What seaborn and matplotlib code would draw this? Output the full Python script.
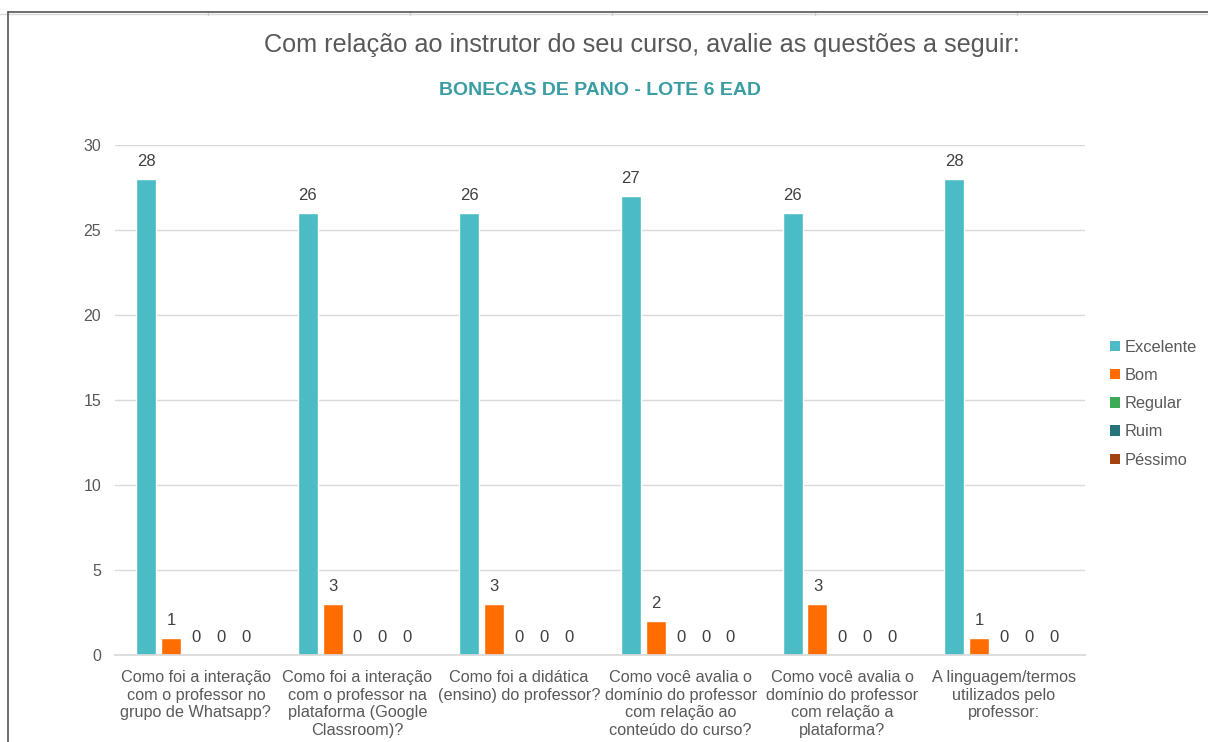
import matplotlib
matplotlib.use("Agg")
import matplotlib.pyplot as plt
import seaborn as sns
import pandas as pd
from matplotlib.patches import Patch
from matplotlib.lines import Line2D

categories = [
    "Como foi a interação\ncom o professor no\ngrupo de Whatsapp?",
    "Como foi a interação\ncom o professor na\nplataforma (Google\nClassroom)?",
    "Como foi a didática\n(ensino) do professor?",
    "Como você avalia o\ndomínio do professor\ncom relação ao\nconteúdo do curso?",
    "Como você avalia o\ndomínio do professor\ncom relação a\nplataforma?",
    "A linguagem/termos\nutilizados pelo\nprofessor:",
]
series_names = ["Excelente", "Bom", "Regular", "Ruim", "Péssimo"]
excelente = [28, 26, 26, 27, 26, 28]
bom = [1, 3, 3, 2, 3, 1]
regular = [0, 0, 0, 0, 0, 0]
ruim = [0, 0, 0, 0, 0, 0]
pessimo = [0, 0, 0, 0, 0, 0]
yticks = [0, 5, 10, 15, 20, 25, 30]

colors = ["#4BBCC6", "#FF6D01", "#3DAA58", "#26737A", "#A3420E"]

rows = []
for name, vals in zip(series_names, [excelente, bom, regular, ruim, pessimo]):
    for c, v in zip(categories, vals):
        rows.append({"cat": c, "serie": name, "valor": v})
df = pd.DataFrame(rows)

sns.set_theme(style="white")
plt.rcParams["font.family"] = ["Liberation Sans", "DejaVu Sans"]

fig = plt.figure(figsize=(12.08, 7.42), dpi=100)
ax = fig.add_axes([0.0952, 0.1172, 0.8028, 0.6874])

sns.barplot(data=df, x="cat", y="valor", hue="serie", hue_order=series_names,
            order=categories, palette=colors, width=0.77, gap=0.2,
            saturation=1, ax=ax, legend=False)

for cont in ax.containers:
    ax.bar_label(cont, padding=7, fontsize=12, color="#404040")

ax.set_ylim(0, 30)
ax.set_xlim(-0.5, len(categories) - 0.5)
ax.set_yticks(yticks)
ax.set_yticklabels([str(t) for t in yticks], fontsize=11.5, color="#595959")
ax.set_xticks(range(len(categories)))
ax.set_xticklabels(categories, fontsize=11.7, color="#595959", linespacing=1.2,
                   va="top")
ax.tick_params(axis="y", length=0, pad=10)
ax.tick_params(axis="x", length=0, pad=11)
ax.set_xlabel("")
ax.set_ylabel("")
ax.grid(axis="y", color="#D9D9D9", linewidth=1)
ax.set_axisbelow(True)
for s in ["top", "right", "left"]:
    ax.spines[s].set_visible(False)
ax.spines["bottom"].set_color("#D9D9D9")

handles = [Patch(facecolor=c, edgecolor="none") for c in colors]
fig.legend(handles, series_names, loc="center left",
           bbox_to_anchor=(0.9065, 0.456), frameon=False, fontsize=11.8,
           handlelength=0.6, handleheight=0.6, handletextpad=0.3,
           labelspacing=0.81, labelcolor="#595959")

fig.text(0.531, 0.939, "Com relação ao instrutor do seu curso, avalie as questões a seguir:",
         ha="center", va="center", fontsize=18.2, color="#595959")
fig.text(0.497, 0.878, "BONECAS DE PANO - LOTE 6 EAD", ha="center", va="center",
         fontsize=14, fontweight="bold", color="#3A9DA3")

# screenshot frame
fig.add_artist(Line2D([0.0, 1.0], [0.9808, 0.9808], color="#DADADA", linewidth=1.0,
                      transform=fig.transFigure))
for xp in [208, 410, 612, 815, 1017]:
    xg = xp / 1208
    fig.add_artist(Line2D([xg, xg], [0.9838, 0.9795], color="#D0D0D0", linewidth=1,
                          transform=fig.transFigure))
fig.add_artist(Line2D([0.0063, 1.0], [0.9838, 0.9838], color="#555555", linewidth=1.2,
                      transform=fig.transFigure))
fig.add_artist(Line2D([0.0063, 0.0063], [0.0, 0.9838], color="#555555", linewidth=1.2,
                      transform=fig.transFigure))

fig.savefig("out.png", dpi=100)
